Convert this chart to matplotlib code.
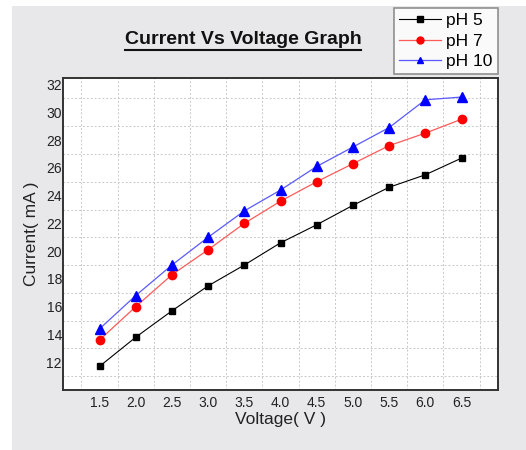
import numpy as np
import matplotlib
matplotlib.use("Agg")
import matplotlib.pyplot as plt
from matplotlib.lines import Line2D
from matplotlib.patches import Rectangle

plt.rcParams['font.family'] = ['Liberation Sans', 'DejaVu Sans']

# data
voltage = [1.5, 2.0, 2.5, 3.0, 3.5, 4.0, 4.5, 5.0, 5.5, 6.0, 6.5]
ph5 = [11.7, 13.8, 15.7, 17.5, 19.0, 20.6, 21.9, 23.3, 24.6, 25.5, 26.7]
ph7 = [13.6, 16.0, 18.3, 20.1, 22.0, 23.6, 25.0, 26.3, 27.6, 28.5, 29.5]
ph10 = [14.4, 16.8, 19.0, 21.0, 22.9, 24.4, 26.1, 27.5, 28.9, 30.9, 31.1]
yticks = [12, 14, 16, 18, 20, 22, 24, 26, 28, 30, 32]

fig = plt.figure(figsize=(5.26, 4.5), dpi=100)
fig.patch.set_facecolor('white')
# grey panel behind everything
fig.patches.append(Rectangle((12 / 526, 0), 1, 1 - 6 / 450, transform=fig.transFigure,
                             facecolor='#e8e8ea', edgecolor='none', zorder=-10))

ax = fig.add_axes([63.3 / 526, 1 - 390 / 450, (497.7 - 63.3) / 526, (390 - 78.3) / 450])
ax.set_facecolor('white')

ax.plot(voltage, ph5, color='black', lw=0.8, marker='s', ms=5, mfc='black', mec='black', label='pH 5')
ax.plot(voltage, ph7, color='#ff5a5a', lw=0.9, marker='o', ms=6, mfc='red', mec='red', label='pH 7')
ax.plot(voltage, ph10, color='#5a5aff', lw=0.9, marker='^', ms=6.5, mfc='blue', mec='blue', label='pH 10')

ax.set_xlim(1.0, 7.0)
ax.set_ylim(10, 32.45)
ax.set_xticks(voltage)
ax.set_xticklabels([f"{v:.1f}" for v in voltage])
ax.set_yticks(yticks)
ax.set_xticks(np.arange(1.25, 7.0, 0.5), minor=True)
ax.set_yticks(np.arange(11, 32.5, 2), minor=True)
ax.grid(False, which='major')
ax.grid(True, which='minor', color='#c8c8c8', lw=0.7, ls=(0, (2, 2)))
ax.tick_params(which='both', length=0, labelsize=10, colors='#222222')
ax.tick_params(axis='y', pad=1)
ax.tick_params(axis='x', pad=4)
for s in ax.spines.values():
    s.set_color('#333333')
    s.set_linewidth(1.4)

ax.set_xlabel('Voltage( V )', fontsize=12.5, color='#222222', labelpad=2)
ax.set_ylabel('Current( mA )', fontsize=12.5, color='#222222', labelpad=5)

title = fig.text(243 / 526, 1 - 39 / 450, 'Current Vs Voltage Graph', ha='center', va='center',
                 fontsize=14, fontweight='bold', color='#111111')
fig.canvas.draw()
bb = title.get_window_extent().transformed(fig.transFigure.inverted())
fig.add_artist(Line2D([bb.x0, bb.x1], [bb.y0 - 0.006, bb.y0 - 0.006], transform=fig.transFigure,
                      color='#111111', lw=1.5))

leg = fig.legend(loc='upper right', bbox_to_anchor=(497.5 / 526, 1 - 8 / 450), fontsize=12.5,
                 frameon=True, fancybox=False, handlelength=2.4, handletextpad=0.3,
                 borderpad=0.3, labelspacing=0.3, borderaxespad=0)
leg.get_frame().set_edgecolor('#777777')
leg.get_frame().set_linewidth(1.2)
leg.get_frame().set_facecolor('white')
for h in leg.legend_handles:
    h.set_markersize(5)

fig.savefig('out.png', dpi=100)
